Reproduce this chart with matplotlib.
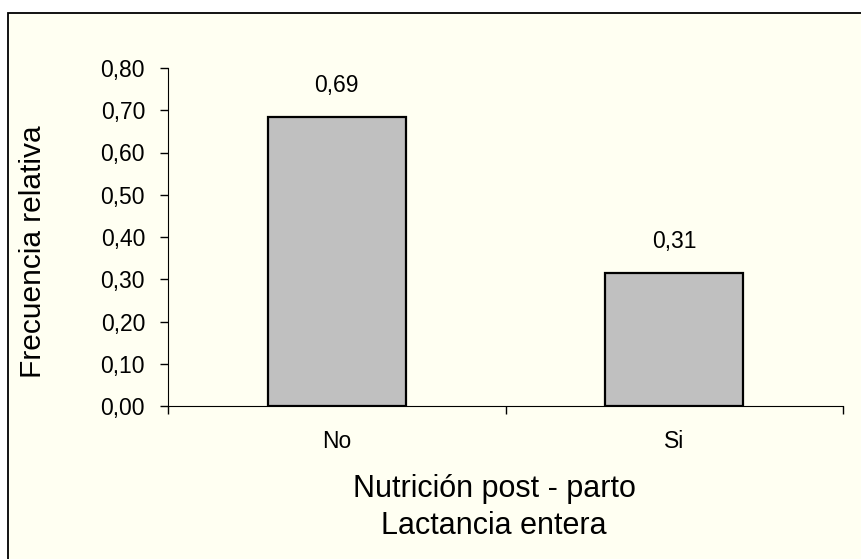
import numpy as np
import matplotlib.pyplot as plt
from matplotlib.ticker import FixedLocator

# Datos
categorias = ["No", "Si"]
frecuencias = [0.685, 0.315]
etiquetas = ["0,69", "0,31"]
ticks_y = [0.0, 0.1, 0.2, 0.3, 0.4, 0.5, 0.6, 0.7, 0.8]
etiquetas_y = ["0,00", "0,10", "0,20", "0,30", "0,40", "0,50", "0,60", "0,70", "0,80"]

plt.rcParams['font.family'] = ['Liberation Sans', 'DejaVu Sans']

W, H = 862, 559
fondo = "#FFFFF2"
fig = plt.figure(figsize=(W / 100, H / 100), dpi=100, facecolor="white")

# marco del gráfico (el borde derecho e inferior quedan fuera de la imagen)
fig.patches.append(plt.Rectangle((8 / W, -0.05), 1.1, 1 - 13 / H + 0.05, transform=fig.transFigure,
                                 facecolor=fondo, edgecolor="black", linewidth=1.3, zorder=-10))

ax = fig.add_axes([168 / W, 1 - 406 / H, (843 - 168) / W, (406 - 68) / H])
ax.patch.set_alpha(0)

x = np.arange(len(categorias))
ax.bar(x, frecuencias, width=0.41, color="#C0C0C0", edgecolor="black", linewidth=1.6, zorder=3)

for xi, v, t in zip(x, frecuencias, etiquetas):
    ax.annotate(t, (xi, v), xytext=(0, 18), textcoords="offset points",
                ha="center", va="baseline", fontsize=16.5)

ax.set_xlim(-0.5, 1.5)
ax.set_ylim(0, 0.8)

# eje Y
ax.yaxis.set_major_locator(FixedLocator(ticks_y))
ax.set_yticklabels(etiquetas_y)
ax.tick_params(axis="y", direction="out", length=6, width=1, pad=10.5, labelsize=16.5)

# eje X: marcas en los bordes, etiquetas en los centros
ax.xaxis.set_major_locator(FixedLocator([-0.5, 0.5, 1.5]))
ax.xaxis.set_minor_locator(FixedLocator(x))
ax.set_xticklabels([], minor=False)
ax.set_xticklabels(categorias, minor=True)
ax.tick_params(axis="x", which="major", direction="out", length=6, width=1)
ax.tick_params(axis="x", which="minor", length=0, pad=17, labelsize=16.5)

for s in ["top", "right"]:
    ax.spines[s].set_visible(False)

# títulos de los ejes
fig.text(33 / W, 1 - 252 / H, "Frecuencia relativa", rotation=90,
         ha="center", va="center", fontsize=21.5)
fig.text(494 / W, 1 - 497 / H, "Nutrición post - parto", ha="center", va="baseline", fontsize=22)
fig.text(494 / W, 1 - 534 / H, "Lactancia entera", ha="center", va="baseline", fontsize=22)

fig.savefig("out.png", dpi=100, facecolor="white")
